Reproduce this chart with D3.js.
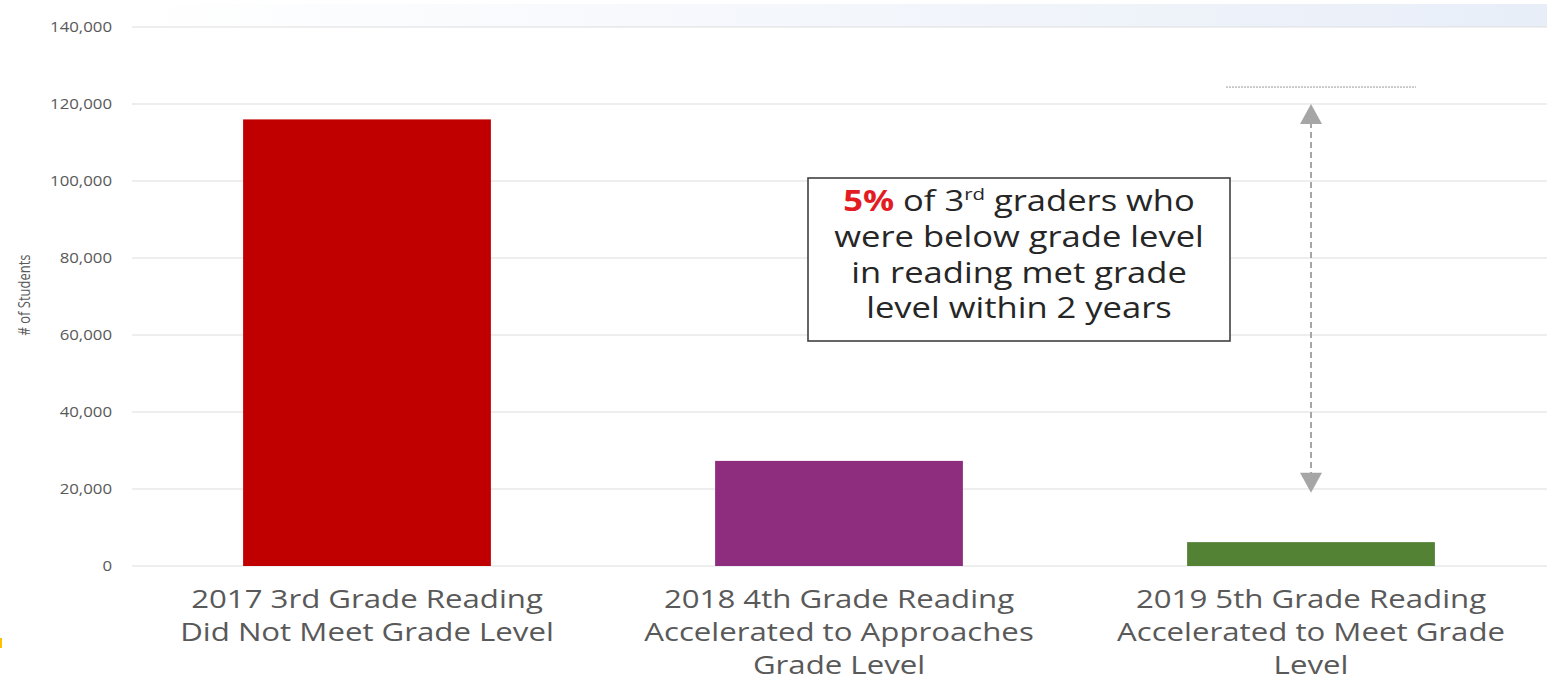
<!DOCTYPE html>
<html>
<head>
<meta charset="utf-8">
<script src="https://cdn.jsdelivr.net/npm/d3@7"></script>
<style>
  body { margin: 0; background: #ffffff; }
  svg { display: block; }
  text { font-family: "Open Sans", "Noto Sans", sans-serif; }
</style>
</head>
<body>
<div id="chart"></div>
<script>
const categories = [
  "2017 3rd Grade Reading",
  "2018 4th Grade Reading",
  "2019 5th Grade Reading"
];

const categoryLines = [
  ["2017 3rd Grade Reading", "Did Not Meet Grade Level"],
  ["2018 4th Grade Reading", "Accelerated to Approaches", "Grade Level"],
  ["2019 5th Grade Reading", "Accelerated to Meet Grade", "Level"]
];

const studentCounts = [116000, 27300, 6200];

const barColors = ["#c00000", "#8e2d7d", "#548235"];

const yTicks = [0, 20000, 40000, 60000, 80000, 100000, 120000, 140000];

const noteLines = [
  "were below grade level",
  "in reading met grade",
  "level within 2 years"
];

// the source picture is stretched sideways, so text gets the same stretch
const stretch = 1.2;

const width = 1547;
const height = 686;

const svg = d3.select("#chart")
  .append("svg")
  .attr("width", width)
  .attr("height", height);

const x = d3.scaleBand()
  .domain(categories)
  .range([131, width])
  .paddingInner(0.475)
  .paddingOuter(0.2375);

const y = d3.scaleLinear()
  .domain([0, 140000])
  .range([566, 27]);

// faint band along the top
const defs = svg.append("defs");
const bandGradient = defs.append("linearGradient")
  .attr("id", "top-band")
  .attr("x1", "0%")
  .attr("x2", "100%");
bandGradient.append("stop").attr("offset", "0%").attr("stop-color", "#ffffff");
bandGradient.append("stop").attr("offset", "100%").attr("stop-color", "#e8eef8");

svg.append("rect")
  .attr("x", 130)
  .attr("y", 4)
  .attr("width", width - 130)
  .attr("height", y(140000) - 4)
  .attr("fill", "url(#top-band)");

// gridlines
svg.append("g")
  .selectAll("line")
  .data(yTicks)
  .enter()
  .append("line")
  .attr("x1", 132)
  .attr("x2", width)
  .attr("y1", d => y(d))
  .attr("y2", d => y(d))
  .attr("stroke", "#dedede")
  .attr("stroke-width", 1.2);

// y tick labels
svg.append("g")
  .selectAll("text")
  .data(yTicks)
  .enter()
  .append("text")
  .attr("transform", d => `translate(112, ${y(d) + 5}) scale(${stretch}, 1)`)
  .attr("text-anchor", "end")
  .attr("font-size", "14px")
  .attr("fill", "#595959")
  .text(d => d3.format(",")(d));

svg.append("text")
  .attr("transform", `translate(30, 295) scale(${stretch}, 1) rotate(-90)`)
  .attr("text-anchor", "middle")
  .attr("font-size", "13px")
  .attr("fill", "#595959")
  .text("# of Students");

// bars
svg.append("g")
  .selectAll("rect")
  .data(studentCounts)
  .enter()
  .append("rect")
  .attr("x", (d, i) => x(categories[i]))
  .attr("y", d => y(d))
  .attr("width", x.bandwidth())
  .attr("height", d => y(0) - y(d))
  .attr("fill", (d, i) => barColors[i]);

// category labels
const labelGroups = svg.append("g")
  .selectAll("g")
  .data(categoryLines)
  .enter()
  .append("g");

labelGroups.each(function(lines, i) {
  const cx = x(categories[i]) + x.bandwidth() / 2;
  d3.select(this)
    .selectAll("text")
    .data(lines)
    .enter()
    .append("text")
    .attr("transform", (d, j) => `translate(${cx}, ${608 + j * 33}) scale(${stretch}, 1)`)
    .attr("text-anchor", "middle")
    .attr("font-size", "26px")
    .attr("fill", "#595959")
    .text(d => d);
});

// dashed double arrow
const arrowX = x(categories[2]) + x.bandwidth() / 2;
const arrowTop = y(120000);
const arrowBottom = y(19000);

svg.append("line")
  .attr("x1", arrowX)
  .attr("x2", arrowX)
  .attr("y1", arrowTop + 18)
  .attr("y2", arrowBottom - 18)
  .attr("stroke", "#a6a6a6")
  .attr("stroke-width", 2)
  .attr("stroke-dasharray", "6,4");

svg.append("path")
  .attr("d", `M${arrowX},${arrowTop} L${arrowX - 11},${arrowTop + 20} L${arrowX + 11},${arrowTop + 20} Z`)
  .attr("fill", "#a6a6a6");

svg.append("path")
  .attr("d", `M${arrowX},${arrowBottom} L${arrowX - 11},${arrowBottom - 20} L${arrowX + 11},${arrowBottom - 20} Z`)
  .attr("fill", "#a6a6a6");

svg.append("line")
  .attr("x1", 1226)
  .attr("x2", 1416)
  .attr("y1", y(124400))
  .attr("y2", y(124400))
  .attr("stroke", "#999999")
  .attr("stroke-width", 1)
  .attr("stroke-dasharray", "2,1");

// note box
const box = { x: 808, y: 178, w: 422, h: 163 };
const noteX = box.x + box.w / 2;

svg.append("rect")
  .attr("x", box.x)
  .attr("y", box.y)
  .attr("width", box.w)
  .attr("height", box.h)
  .attr("fill", "#ffffff")
  .attr("stroke", "#404040")
  .attr("stroke-width", 1.6);

const firstLine = svg.append("text")
  .attr("transform", `translate(${noteX}, 211) scale(${stretch}, 1)`)
  .attr("text-anchor", "middle")
  .attr("font-size", "28.8px")
  .attr("fill", "#262626");

firstLine.append("tspan")
  .attr("fill", "#e31b23")
  .attr("font-weight", "700")
  .text("5%");
firstLine.append("tspan").text(" of 3");
firstLine.append("tspan")
  .attr("font-size", "17px")
  .attr("dy", -11)
  .text("rd");
firstLine.append("tspan")
  .attr("dy", 11)
  .text(" graders who");

svg.append("g")
  .selectAll("text")
  .data(noteLines)
  .enter()
  .append("text")
  .attr("transform", (d, i) => `translate(${noteX}, ${247 + i * 35.5}) scale(${stretch}, 1)`)
  .attr("text-anchor", "middle")
  .attr("font-size", "28.8px")
  .attr("fill", "#262626")
  .text(d => d);

// small mark on the left edge
svg.append("rect")
  .attr("x", 0)
  .attr("y", 638)
  .attr("width", 2)
  .attr("height", 10)
  .attr("fill", "#ffc000");
</script>
</body>
</html>
